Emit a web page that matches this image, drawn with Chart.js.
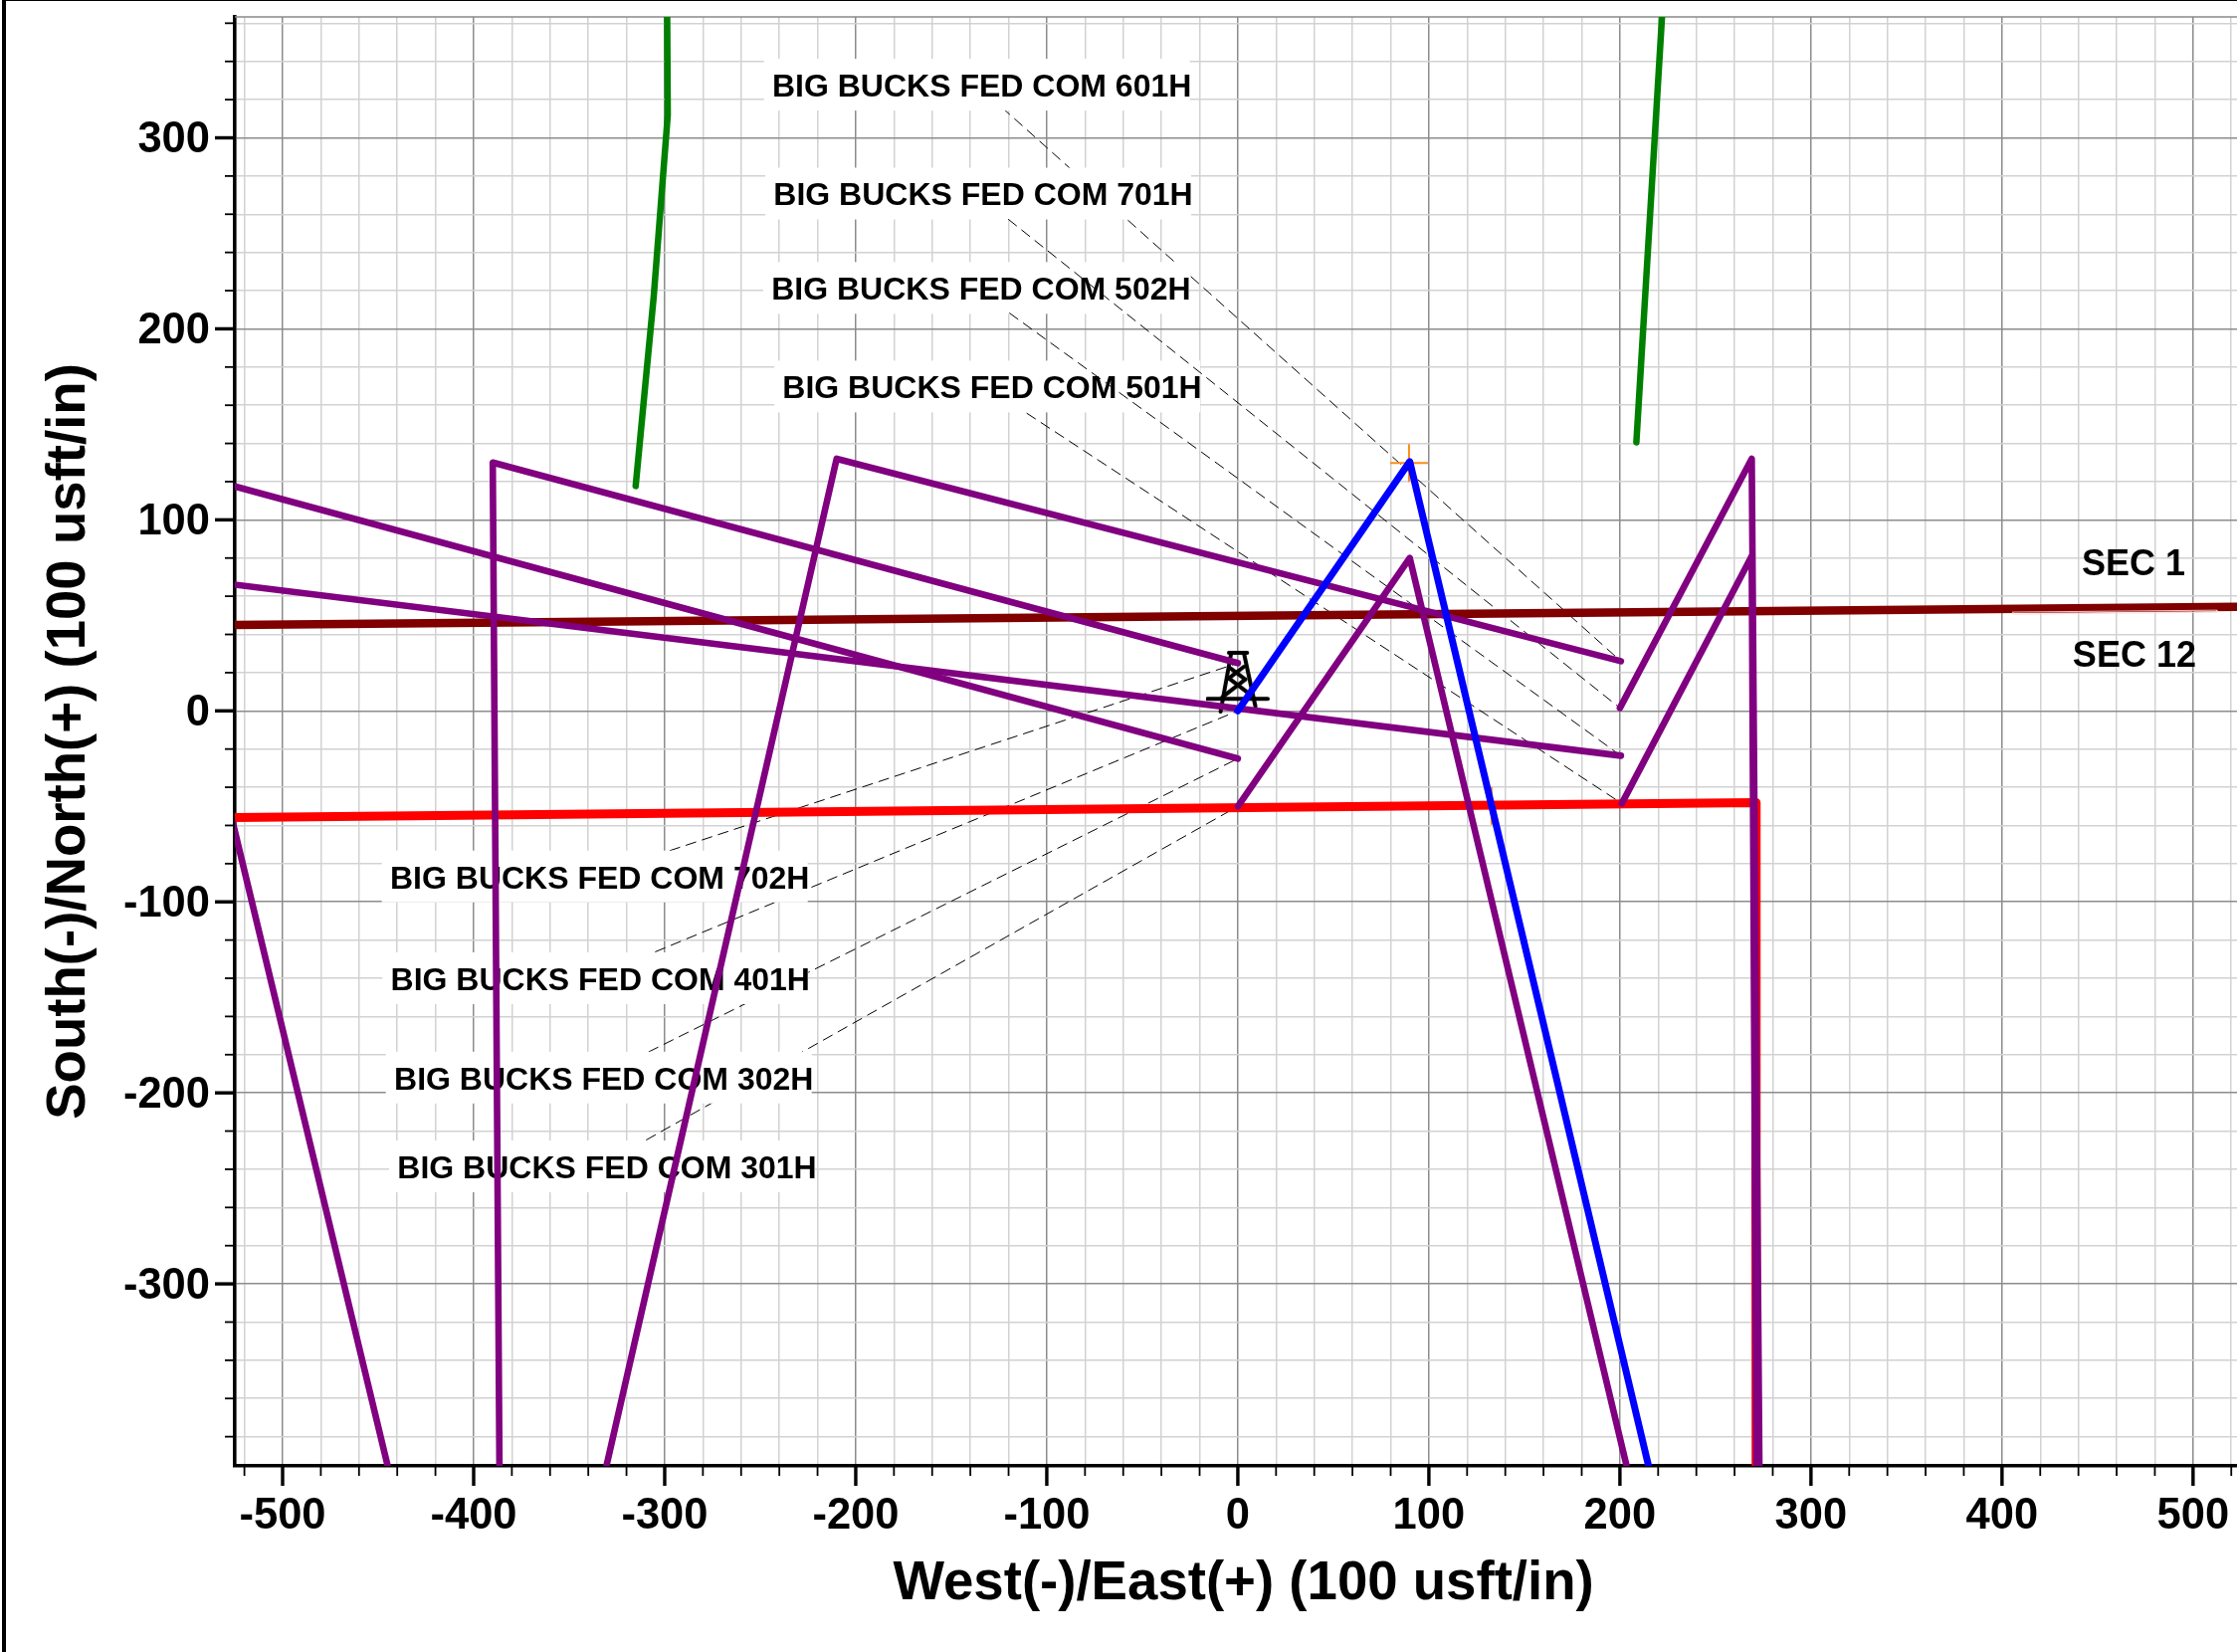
<!DOCTYPE html>
<html>
<head>
<meta charset="utf-8">
<title>BIG BUCKS FED COM plan view</title>
<script src="https://cdn.jsdelivr.net/npm/chart.js@4/dist/chart.umd.js"></script>
<style>
    html, body { margin: 0; padding: 0; background: #fff; }
    canvas { position: absolute; left: 0; top: 0; }
    #frameLeft { position: absolute; left: 2px; top: 0; width: 4px; height: 1660px; background: #000; z-index: 2; }
    #frameTop { position: absolute; left: 2px; top: 0; width: 2246px; height: 1px; background: #000; z-index: 2; }
</style>
</head>
<body>
<div id="frameLeft"></div>
<div id="frameTop"></div>
<canvas id="planChart" width="2248" height="1660"></canvas>
<script>
// ==== AXIS RANGES AND TICKS ====
const xRange = [-525, 523];
const yRange = [-395.3, 363.3];
const xTickFirst = -520, xTickLast = 520;
const yTickFirst = -380, yTickLast = 360;
const tickStep = 20;
const labelStep = 100;

// ==== WELLBORES ====
const blueWellX = [0, 90, 215];
const blueWellY = [0, 130.5, -395.3];

const well1X = [0, 90, 203.5];
const well1Y = [-50, 80, -395.3];
const well2X = [0, -390, -386.5];
const well2Y = [25, 130, -395.3];
const well3X = [0, -525];
const well3Y = [-25, 117.5];
const well4X = [200.5, -210, -330.5];
const well4Y = [26, 132, -395.3];
const well5X = [200.5, -557, -445];
const well5Y = [-23.5, 70, -395.3];
const well6X = [200, 269, 273];
const well6Y = [1.5, 132, -395.3];
const well7X = [201, 269, 271.5];
const well7Y = [-48.5, 81, -395.3];

const greenAX = [-315.2, -305.7, -298.4, -298.7];
const greenAY = [117.7, 217.5, 312, 363];
const greenBX = [208.6, 222];
const greenBY = [140.6, 363];

// ==== SECTION LINES ====
const sectionLineX = [-525, 523];
const sectionLineY = [45, 54.5];
const leaseLineX = [-525, 271, 271.3];
const leaseLineY = [-55.8, -48, -395.3];
const sectionNoteX = [405.7, 512.5, 512.5, 405.7, 405.7];
const sectionNoteY = [51.7, 52.7, 51.6, 50.6, 51.7];

// ==== TARGET CROSSES AND RIG ====
const crossX = [89.6, 132.8];
const crossY = [129.8, -49.8];
const rigX = [0];
const rigY = [15.3];

// ==== LABELS ====
const wellNames = [
    "BIG BUCKS FED COM 601H", "BIG BUCKS FED COM 701H",
    "BIG BUCKS FED COM 502H", "BIG BUCKS FED COM 501H",
    "BIG BUCKS FED COM 702H", "BIG BUCKS FED COM 401H",
    "BIG BUCKS FED COM 302H", "BIG BUCKS FED COM 301H"
];
const wellNameX = [-134, -133.3, -134.4, -128.6, -334, -333.7, -331.9, -330.2];
const wellNameY = [327.8, 270.8, 221.4, 169.8, -86.7, -140, -192, -238.5];

// leader from each label to its well, same order as wellNames
const leaderStartX = [-123.6, -120.2, -119.6, -110.6, -297.4, -305, -308.5, -309.7];
const leaderStartY = [316, 257.4, 208.3, 155.9, -73.2, -126.2, -178.6, -224.7];
const leaderEndX = [200.5, 200, 200.5, 201, 0, 0, 0, 0];
const leaderEndY = [26, 1.5, -23.5, -48.5, 25, 0, -25, -50];
// these two run over the label boxes, the rest run under them
const leadersOverBoxes = [1, 2];

const sectionNames = ["SEC 1", "SEC 12"];
const sectionNameX = [468.8, 469.3];
const sectionNameY = [77.8, 29.7];

const FONT = "'Liberation Sans', Arial, sans-serif";
const PURPLE = "#800080";
const TEXT_DROP = 3; // canvas "middle" sits a bit high for this font

const range = (a, b, step) => {
    const out = [];
    for (let v = a; v <= b; v += step) out.push(v);
    return out;
};
const points = (xs, ys) => xs.map((x, i) => ({ x: x, y: ys[i] }));

function lineSet(label, xs, ys, color, width) {
    return {
        label: label,
        data: points(xs, ys),
        showLine: true,
        borderColor: color,
        borderWidth: width,
        borderCapStyle: "round",
        borderJoinStyle: "round",
        pointRadius: 0,
        tension: 0
    };
}

function leaderSet(i) {
    const ds = lineSet("leader " + wellNames[i],
        [leaderStartX[i], leaderEndX[i]], [leaderStartY[i], leaderEndY[i]], "#000", 1);
    ds.borderDash = [11, 6];
    ds.borderCapStyle = "butt";
    return ds;
}

// ==== RIG SYMBOL ====
function rigSymbol() {
    const c = document.createElement("canvas");
    c.width = 64;
    c.height = 64;
    const g = c.getContext("2d");
    const px = z => (z - 132) / 3 + 32;
    const py = z => (z - 135) / 3 + 32;
    const strokes = [
        [105, 48, 160, 48], [112, 48, 80, 225], [150, 48, 185, 210],
        [40, 187, 222, 187], [105, 125, 175, 178], [155, 128, 85, 182],
        [110, 95, 150, 125], [150, 90, 105, 125]
    ];
    g.strokeStyle = "#000";
    g.lineWidth = 4;
    g.lineCap = "round";
    strokes.forEach(s => {
        g.beginPath();
        g.moveTo(px(s[0]), py(s[1]));
        g.lineTo(px(s[2]), py(s[3]));
        g.stroke();
    });
    return c;
}

// ==== DATASETS, LISTED FROM BOTTOM TO TOP ====
const underLeaders = [0, 3, 4, 5, 6, 7].map(leaderSet);
const overLeaders = leadersOverBoxes.map(leaderSet);

const layers = [
    ...underLeaders,
    ...overLeaders,
    {
        label: "targets",
        data: points(crossX, crossY),
        pointStyle: "cross",
        pointRadius: 19,
        pointBorderColor: "#ff8c1a",
        pointBorderWidth: 2,
        showLine: false
    },
    lineSet("section line", sectionLineX, sectionLineY, "#800000", 8.5),
    lineSet("section note", sectionNoteX, sectionNoteY, "rgba(255,215,215,0.9)", 1),
    lineSet("lease line", leaseLineX, leaseLineY, "#ff0000", 9),
    {
        label: "rig",
        data: points(rigX, rigY),
        pointStyle: rigSymbol(),
        pointRadius: 30,
        showLine: false
    },
    lineSet("green A", greenAX, greenAY, "#008000", 6.5),
    lineSet("green B", greenBX, greenBY, "#008000", 6.5),
    lineSet("well 5", well5X, well5Y, PURPLE, 6.6),
    lineSet("well 3", well3X, well3Y, PURPLE, 6.6),
    lineSet("well 2", well2X, well2Y, PURPLE, 6.6),
    lineSet("well 4", well4X, well4Y, PURPLE, 6.6),
    lineSet("well 6", well6X, well6Y, PURPLE, 6.6),
    lineSet("well 7", well7X, well7Y, PURPLE, 6.6),
    lineSet("well 1", well1X, well1Y, PURPLE, 6.6),
    lineSet("blue well", blueWellX, blueWellY, "#0000ff", 7)
];
layers.forEach((ds, i) => { ds.order = layers.length - i; });

// ==== CUSTOM DRAWING ====
const boxHook = "leader " + wellNames[leadersOverBoxes[0]];

const labelPlugin = {
    id: "planLabels",
    beforeDatasetDraw(chart, args) {
        if (chart.data.datasets[args.index].label !== boxHook) return;
        const { ctx, scales } = chart;
        ctx.save();
        ctx.font = "bold 32px " + FONT;
        ctx.textAlign = "center";
        ctx.textBaseline = "middle";
        wellNames.forEach((name, i) => {
            const x = scales.x.getPixelForValue(wellNameX[i]);
            const y = scales.y.getPixelForValue(wellNameY[i]);
            ctx.fillStyle = "#fff";
            ctx.fillRect(x - 219, y - 26, 428, 52);
        });
        ctx.fillStyle = "#000";
        wellNames.forEach((name, i) => {
            ctx.fillText(name, scales.x.getPixelForValue(wellNameX[i]), scales.y.getPixelForValue(wellNameY[i]) + TEXT_DROP);
        });
        ctx.font = "bold 36px " + FONT;
        sectionNames.forEach((name, i) => {
            ctx.fillText(name, scales.x.getPixelForValue(sectionNameX[i]), scales.y.getPixelForValue(sectionNameY[i]) + TEXT_DROP);
        });
        ctx.restore();
    },
    afterDraw(chart) {
        const { ctx, scales, chartArea } = chart;
        ctx.save();
        ctx.strokeStyle = "#000";
        // tick marks, long ones at the labelled values
        scales.x.ticks.forEach(t => {
            const major = t.value % labelStep === 0;
            const x = scales.x.getPixelForValue(t.value);
            ctx.lineWidth = major ? 3.4 : 1.8;
            ctx.beginPath();
            ctx.moveTo(x, chartArea.bottom);
            ctx.lineTo(x, chartArea.bottom + (major ? 20 : 10));
            ctx.stroke();
        });
        scales.y.ticks.forEach(t => {
            const major = t.value % labelStep === 0;
            const y = scales.y.getPixelForValue(t.value);
            ctx.lineWidth = major ? 3.4 : 1.8;
            ctx.beginPath();
            ctx.moveTo(chartArea.left, y);
            ctx.lineTo(chartArea.left - (major ? 20 : 10), y);
            ctx.stroke();
        });
        ctx.restore();
    },
    beforeDatasetsDraw(chart) {
        const { ctx, chartArea } = chart;
        ctx.save();
        ctx.strokeStyle = "#888";
        ctx.lineWidth = 1.5;
        ctx.beginPath();
        ctx.moveTo(chartArea.left, chartArea.top);
        ctx.lineTo(chartArea.right, chartArea.top);
        ctx.stroke();
        ctx.restore();
    }
};

function axisOptions(bounds, first, last, titleText, titlePadding, tickPadding, labelOffset, fitSize) {
    return {
        type: "linear",
        min: bounds[0],
        max: bounds[1],
        afterBuildTicks: scale => {
            scale.ticks = range(first, last, tickStep).map(v => ({ value: v }));
        },
        afterFit: s => {
            fitSize(s);
            s.paddingLeft = s.paddingRight = s.paddingTop = s.paddingBottom = 0;
        },
        border: { display: true, color: "#000", width: 3.6 },
        grid: {
            drawTicks: false,
            color: ctx => (ctx.tick && ctx.tick.value % labelStep === 0) ? "#8c8c8c" : "#d2d2d2",
            lineWidth: 1.5
        },
        ticks: {
            autoSkip: false,
            maxRotation: 0,
            padding: tickPadding,
            labelOffset: labelOffset,
            color: "#000",
            font: { family: FONT, size: 43.5, weight: "bold" },
            callback: v => (v % labelStep === 0 ? String(v) : "")
        },
        title: {
            display: true,
            text: titleText,
            color: "#000",
            padding: titlePadding,
            font: { family: FONT, size: 54.6, weight: "bold" }
        }
    };
}

new Chart(document.getElementById("planChart"), {
    type: "scatter",
    data: { datasets: layers },
    plugins: [labelPlugin],
    options: {
        responsive: false,
        animation: false,
        devicePixelRatio: 1,
        layout: { autoPadding: false, padding: { top: 17, left: 0, right: 0, bottom: 0 } },
        plugins: { legend: { display: false }, tooltip: { enabled: false } },
        scales: {
            x: axisOptions(xRange, xTickFirst, xTickLast, " West(-)/East(+) (100 usft/in)",
                { top: 0, bottom: 35 }, 25, 0, s => { s.height = 187; }),
            y: axisOptions(yRange, yTickFirst, yTickLast, "South(-)/North(+) (100 usft/in)",
                { top: 37.5, bottom: 0 }, 25, 3, s => { s.width = 236; })
        }
    }
});
</script>
</body>
</html>
